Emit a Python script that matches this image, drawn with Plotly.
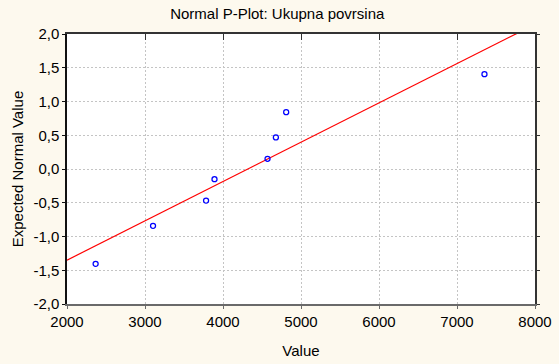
import numpy as np
import plotly.graph_objects as go

# Observed values of "Ukupna povrsina" and their expected normal scores
values = [2367, 3103, 3783, 3891, 4571, 4678, 4810, 7352]
expected = [-1.405, -0.842, -0.468, -0.151, 0.151, 0.468, 0.842, 1.405]

x_ticks = [2000, 3000, 4000, 5000, 6000, 7000, 8000]
y_ticks = [-2.0, -1.5, -1.0, -0.5, 0.0, 0.5, 1.0, 1.5, 2.0]
y_tick_text = [f"{v:.1f}".replace(".", ",") for v in y_ticks]

# least-squares reference line through the points
slope, intercept = np.polyfit(values, expected, 1)
line_x = np.array([2000, 8000])
line_y = intercept + slope * line_x

fig = go.Figure()
fig.add_trace(go.Scatter(
    x=line_x, y=line_y, mode="lines",
    line=dict(color="#ff0000", width=1.2),
    hoverinfo="skip", showlegend=False,
))
fig.add_trace(go.Scatter(
    x=values, y=expected, mode="markers",
    marker=dict(symbol="circle-open", size=5, color="#0000ff",
                line=dict(width=1.3, color="#0000ff")),
    showlegend=False,
))

font = "Liberation Sans, Arial, sans-serif"
grid = dict(showgrid=True, gridcolor="#c4c4c4", griddash="2px,2px", gridwidth=1)
fig.update_layout(
    width=559, height=364,
    margin=dict(l=67, r=24, t=34, b=60, autoexpand=False),
    paper_bgcolor="#fdf9ee",
    plot_bgcolor="#ffffff",
    font=dict(family=font, size=15, color="#000000"),
    title=dict(text="Normal P-Plot: Ukupna povrsina", x=0.496, xanchor="center",
               y=1 - 14 / 364, yanchor="middle", font=dict(size=15)),
    xaxis=dict(
        range=[2000, 8000], tickvals=x_ticks, ticktext=[str(v) for v in x_ticks],
        **grid,
        showline=True, linecolor="#6a6a6a", linewidth=2, mirror=False,
        ticks="outside", ticklen=3, tickcolor="#6a6a6a",
        tickfont=dict(size=15),
        zeroline=False, automargin=False,
        title=dict(text="Value", standoff=16, font=dict(size=15)),
    ),
    # top frame edge with short inward ticks
    xaxis2=dict(
        range=[2000, 8000], tickvals=x_ticks, overlaying="x", side="top",
        showticklabels=False, showgrid=False, zeroline=False,
        showline=True, linecolor="#333333", linewidth=1.5,
        ticks="inside", ticklen=6, tickcolor="#333333", automargin=False,
    ),
    yaxis=dict(
        range=[-2.0, 2.0], tickvals=y_ticks, ticktext=y_tick_text,
        **grid,
        showline=True, linecolor="#111111", linewidth=1.5, mirror=False,
        ticks="outside", ticklen=3, tickcolor="#111111",
        tickfont=dict(size=15),
        zeroline=False, automargin=False,
        title=dict(text="Expected Normal Value", standoff=6, font=dict(size=15)),
    ),
    # right frame edge with short outward ticks
    yaxis2=dict(
        range=[-2.0, 2.0], tickvals=y_ticks, overlaying="y", side="right",
        showticklabels=False, showgrid=False, zeroline=False,
        showline=True, linecolor="#333333", linewidth=1.5,
        ticks="outside", ticklen=3, tickcolor="#333333", automargin=False,
    ),
)
# invisible anchor trace so the frame axes are drawn
fig.add_trace(go.Scatter(x=[None], y=[None], xaxis="x2", yaxis="y2",
                         showlegend=False, hoverinfo="skip"))

fig.write_html("out.html")
